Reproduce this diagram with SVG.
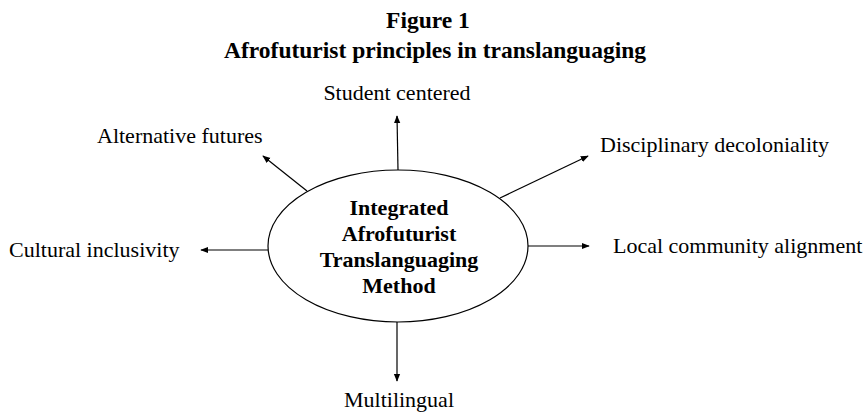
<svg xmlns="http://www.w3.org/2000/svg" width="864" height="412" viewBox="0 0 864 412">
<style>
text{font-family:"Liberation Serif","Times New Roman",serif;fill:#000}
.t{font-size:23.5px;font-weight:bold;text-anchor:middle}
.c{font-size:22px;font-weight:bold;text-anchor:middle}
.l{font-size:22px}
.e{stroke:#000;stroke-width:1.2;fill:none;marker-end:url(#ah)}
</style>
<defs>
<marker id="ah" viewBox="0 0 10 10" refX="9" refY="5" markerWidth="8" markerHeight="8" markerUnits="userSpaceOnUse" orient="auto">
<path d="M0,1 L10,5 L0,9 z" fill="#000"/>
</marker>
</defs>
<g id="title">
<text class="t" x="428" y="28">Figure 1</text>
<text class="t" x="435" y="58">Afrofuturist principles in translanguaging</text>
</g>
<g id="center">
<ellipse cx="398" cy="246" rx="130" ry="76" fill="#fff" stroke="#000" stroke-width="1.2"/>
<text class="c" x="399" y="215">Integrated</text>
<text class="c" x="399" y="241">Afrofuturist</text>
<text class="c" x="399" y="267">Translanguaging</text>
<text class="c" x="399" y="293">Method</text>
</g>
<g id="connectors">
<path class="e" d="M398,170 L397,116"/>
<path class="e" d="M500,198 L588,156"/>
<path class="e" d="M528,246 L589,246"/>
<path class="e" d="M397,322 L397,381"/>
<path class="e" d="M268,250 L201,250"/>
<path class="e" d="M307,191 L263,156"/>
</g>
<g id="n-student"><text class="l" x="397" y="100" text-anchor="middle">Student centered</text></g>
<g id="n-disciplinary"><text class="l" x="600" y="152">Disciplinary decoloniality</text></g>
<g id="n-local"><text class="l" x="613" y="253">Local community alignment</text></g>
<g id="n-multilingual"><text class="l" x="399" y="407" text-anchor="middle">Multilingual</text></g>
<g id="n-cultural"><text class="l" x="9" y="257">Cultural inclusivity</text></g>
<g id="n-alternative"><text class="l" x="97" y="143">Alternative futures</text></g>
</svg>
